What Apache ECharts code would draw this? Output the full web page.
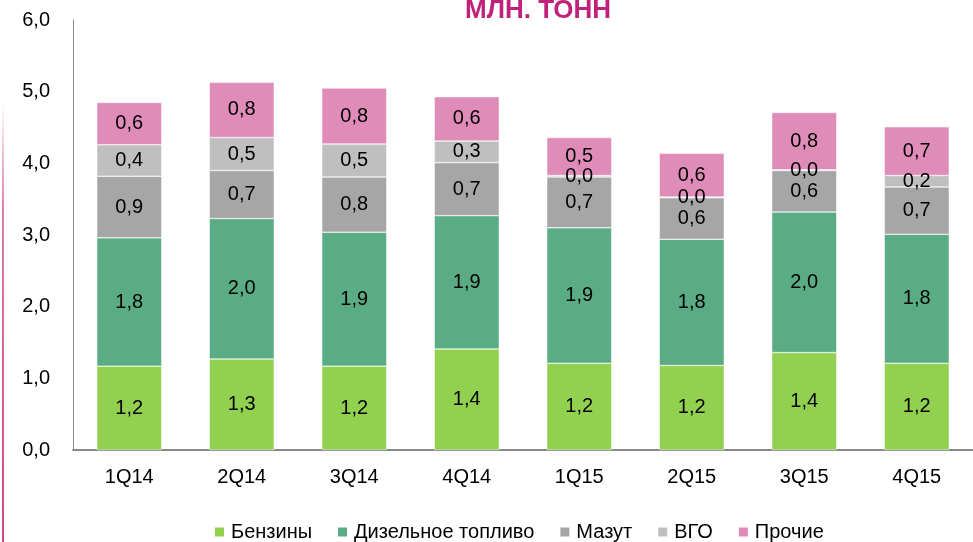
<!DOCTYPE html>
<html>
<head>
<meta charset="utf-8">
<script src="https://cdn.jsdelivr.net/npm/echarts@6/dist/echarts.min.js"></script>
<style>
html, body { margin: 0; padding: 0; background: #fff; }
#chart { width: 973px; height: 542px; }
</style>
</head>
<body>
<div id="chart"></div>
<script>
// кварталы
const quarters = ['1Q14', '2Q14', '3Q14', '4Q14', '1Q15', '2Q15', '3Q15', '4Q15'];
const seriesNames = ['Бензины', 'Дизельное топливо', 'Мазут', 'ВГО', 'Прочие'];
const benzin = [1.17, 1.27, 1.17, 1.41, 1.21, 1.18, 1.36, 1.21];
const diesel = [1.79, 1.96, 1.87, 1.86, 1.89, 1.76, 1.96, 1.80];
const mazut = [0.86, 0.67, 0.77, 0.74, 0.71, 0.58, 0.58, 0.66];
const vgo = [0.44, 0.46, 0.46, 0.30, 0.02, 0.01, 0.01, 0.16];
const other = [0.59, 0.77, 0.78, 0.62, 0.53, 0.61, 0.80, 0.68];
const yTicks = [0, 1, 2, 3, 4, 5, 6];

const colors = ['#92d050', '#5aac84', '#a6a6a6', '#bfbfbf', '#e08cb8'];
const fnt = '"Liberation Sans", Arial, sans-serif';
const comma = v => v.toFixed(1).replace('.', ',');

const chart = echarts.init(document.getElementById('chart'));

const allData = [benzin, diesel, mazut, vgo, other];
const series = seriesNames.map((name, i) => ({
  name: name,
  type: 'bar',
  stack: 'total',
  barWidth: 65,
  data: allData[i],
  itemStyle: { color: colors[i], borderColor: '#ffffff', borderWidth: 0.5 },
  label: {
    show: true,
    position: 'inside',
    color: '#000',
    fontFamily: fnt,
    fontSize: 20,
    formatter: p => comma(p.value)
  }
}));

var option = {
  backgroundColor: '#fff',
  animation: false,
  legend: {
    top: 517,
    left: 208,
    itemWidth: 11,
    itemHeight: 11,
    itemGap: 24,
    icon: 'rect',
    textStyle: { fontFamily: fnt, fontSize: 20, color: '#000', padding: [0, 0, 0, 1] },
    data: seriesNames
  },
  grid: {
    left: 73,
    right: -14,
    top: 20,
    bottom: 92,
    containLabel: false
  },
  xAxis: {
    type: 'category',
    data: quarters,
    axisLine: { lineStyle: { color: '#888', width: 2 } },
    axisTick: { show: false },
    axisLabel: { color: '#000', fontFamily: fnt, fontSize: 20, margin: 17 }
  },
  yAxis: {
    type: 'value',
    min: yTicks[0],
    max: yTicks[yTicks.length - 1],
    interval: 1,
    axisLine: { show: true, lineStyle: { color: '#888', width: 1 } },
    axisTick: { show: false },
    splitLine: { show: false },
    axisLabel: { color: '#000', fontFamily: fnt, fontSize: 20, margin: 23, formatter: v => comma(v) }
  },
  graphic: [{
    type: 'rect',
    shape: { x: 2, y: 100, width: 2, height: 442 },
    style: {
      fill: new echarts.graphic.LinearGradient(0, 0, 0, 1, [
        { offset: 0, color: 'rgba(208,69,138,0)' },
        { offset: 0.25, color: 'rgba(208,69,138,0.7)' },
        { offset: 1, color: '#d0458a' }
      ])
    }
  }, {
    type: 'text',
    left: 465,
    top: -2,
    style: {
      text: 'МЛН. ТОНН',
      fill: '#c0217a',
      font: 'bold 26px "Liberation Sans", Arial, sans-serif'
    }
  }],
  series: series
};
chart.setOption(option);
</script>
</body>
</html>
